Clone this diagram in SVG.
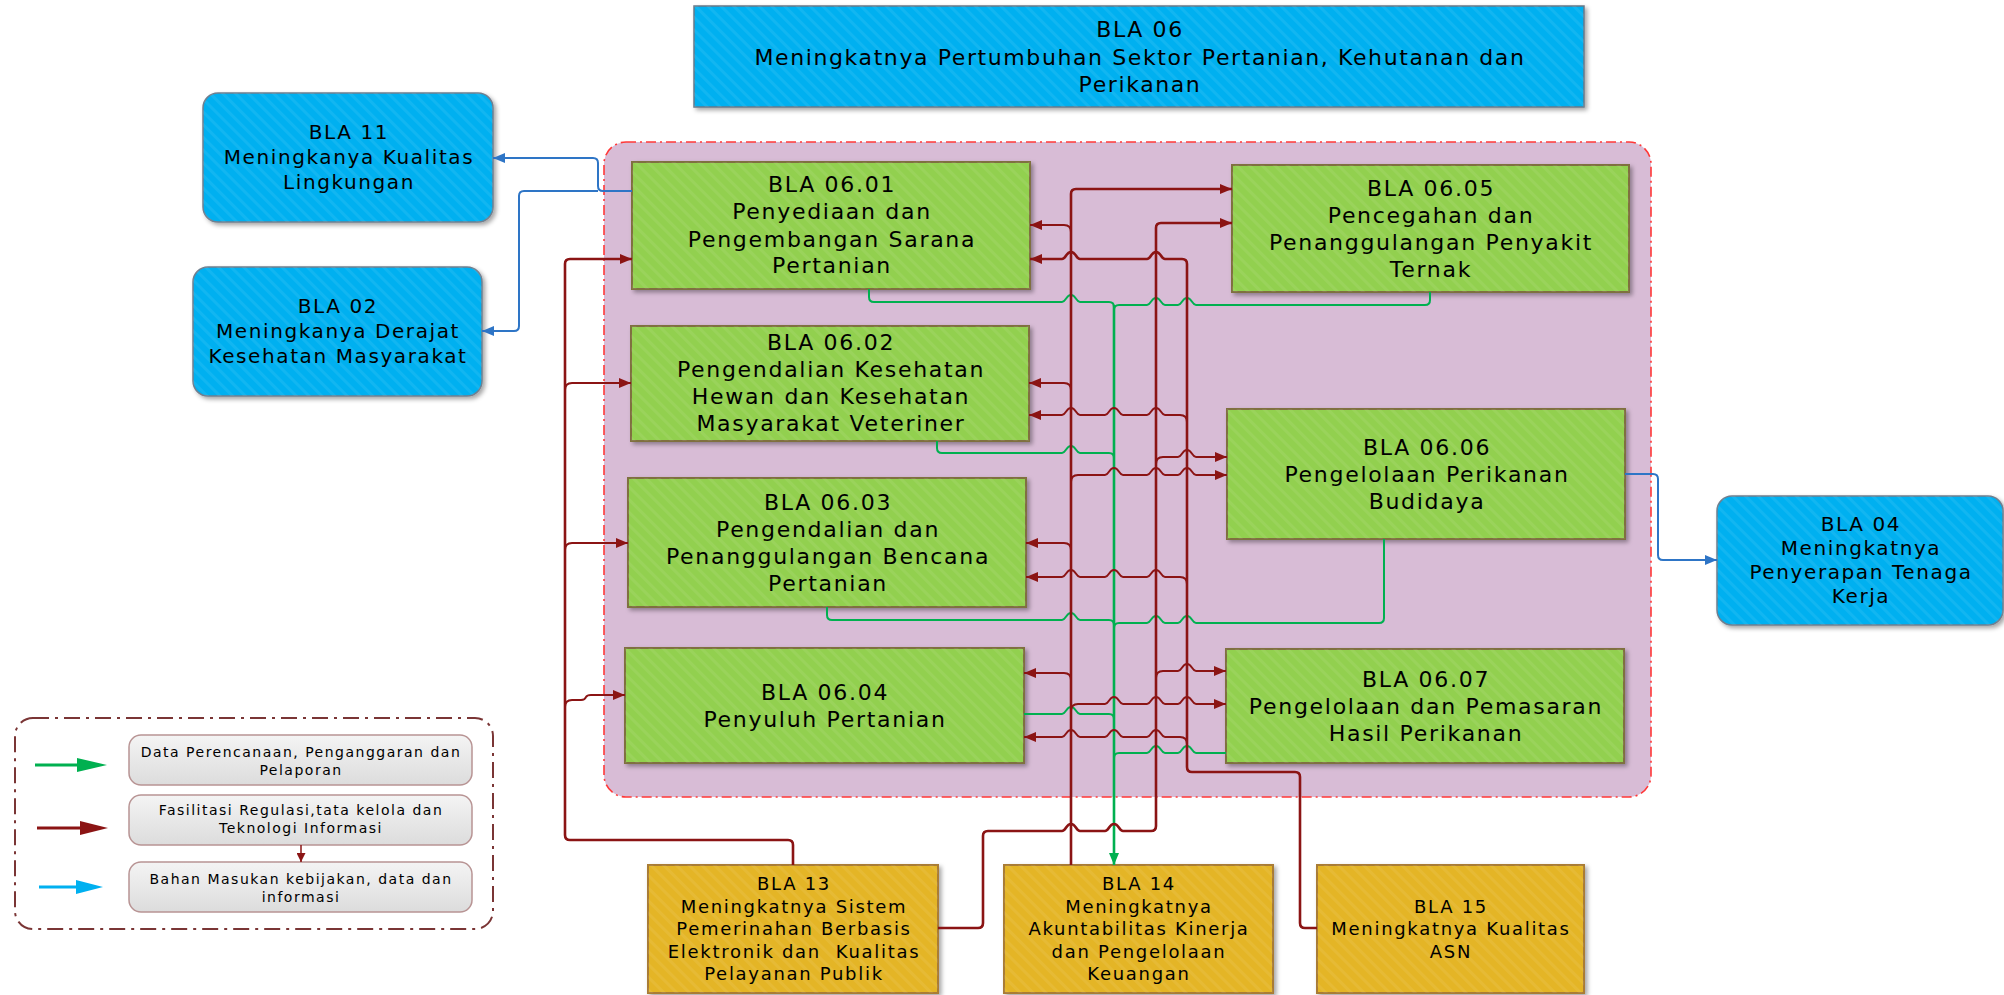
<svg xmlns="http://www.w3.org/2000/svg" width="2004" height="995" viewBox="0 0 2004 995">
<style>
text{font-family:"DejaVu Sans","Liberation Sans",sans-serif;fill:#000;text-anchor:middle}
.t0{font-size:22px;letter-spacing:1.6px}
.tg{font-size:22px;letter-spacing:1.7px}
.tb{font-size:20px;letter-spacing:1.6px}
.ty{font-size:18px;letter-spacing:1.7px}
.tl{font-size:14px;letter-spacing:1.5px}
.nb{fill:#00b0f0;stroke:#6f7f8f;stroke-width:1.5}
.ng{fill:#92d050;stroke:#7f6f40;stroke-width:2}
.ny{fill:#e4b526;stroke:#a97c36;stroke-width:2}
.hat{fill:url(#hatch)}
.r{fill:none;stroke:#8b1414;stroke-width:2;stroke-linejoin:round}
.rm{fill:none;stroke:#8b1414;stroke-width:2.6;stroke-linejoin:round}
.g{fill:none;stroke:#00b050;stroke-width:2;stroke-linejoin:round}
.gm{fill:none;stroke:#00b050;stroke-width:2.6;stroke-linejoin:round}
.b{fill:none;stroke:#2e75c6;stroke-width:2;stroke-linejoin:round}
.lb{fill:url(#lgrad);stroke:#b89494;stroke-width:1.5}
</style>
<defs>
<pattern id="hatch" patternUnits="userSpaceOnUse" width="9" height="9" patternTransform="rotate(-45)">
<rect x="0" y="0" width="3" height="9" fill="#ffffff" fill-opacity="0.07"/>
</pattern>
<linearGradient id="lgrad" x1="0" y1="0" x2="0" y2="1">
<stop offset="0" stop-color="#f4f4f4"/>
<stop offset="1" stop-color="#dcdcdc"/>
</linearGradient>
<filter id="sh" x="-5%" y="-5%" width="112%" height="115%">
<feDropShadow dx="2.5" dy="2.5" stdDeviation="2" flood-color="#000" flood-opacity="0.35"/>
</filter>
<marker id="ar" viewBox="0 0 12 10" refX="12" refY="5" markerWidth="12" markerHeight="10" markerUnits="userSpaceOnUse" orient="auto"><path d="M0,0 L12,5 L0,10 z" fill="#8b1414"/></marker>
<marker id="ag" viewBox="0 0 12 10" refX="12" refY="5" markerWidth="12" markerHeight="10" markerUnits="userSpaceOnUse" orient="auto"><path d="M0,0 L12,5 L0,10 z" fill="#00b050"/></marker>
<marker id="ab" viewBox="0 0 12 10" refX="12" refY="5" markerWidth="12" markerHeight="10" markerUnits="userSpaceOnUse" orient="auto"><path d="M0,0 L12,5 L0,10 z" fill="#2e75c6"/></marker>
<marker id="ars" viewBox="0 0 10 10" refX="10" refY="5" markerWidth="9" markerHeight="9" markerUnits="userSpaceOnUse" orient="auto"><path d="M0,0 L10,5 L0,10 z" fill="#8b1414"/></marker>
</defs>

<rect x="0" y="0" width="2004" height="995" fill="#ffffff"/>

<g id="container">
<rect x="604" y="142" width="1047" height="655" rx="22" fill="#d8bcd6" stroke="#ff3838" stroke-width="1.6" stroke-dasharray="10 4 2 4"/>
</g>

<g id="bla06">
<rect x="694" y="6" width="890" height="101" class="nb" filter="url(#sh)" style="stroke:#687888"/>
<rect x="694" y="6" width="890" height="101" class="hat"/>
<text class="t0" x="1140" y="37">BLA 06</text>
<text class="t0" x="1140" y="65">Meningkatnya Pertumbuhan Sektor Pertanian, Kehutanan dan</text>
<text class="t0" x="1140" y="92">Perikanan</text>
</g>

<g id="bla11">
<rect x="203" y="93" width="290" height="129" rx="15" class="nb" filter="url(#sh)"/>
<rect x="203" y="93" width="290" height="129" rx="15" class="hat"/>
<text class="tb" x="349" y="139">BLA 11</text>
<text class="tb" x="349" y="164">Meningkanya Kualitas</text>
<text class="tb" x="349" y="189">Lingkungan</text>
</g>

<g id="bla02">
<rect x="193" y="267" width="289" height="129" rx="15" class="nb" filter="url(#sh)"/>
<rect x="193" y="267" width="289" height="129" rx="15" class="hat"/>
<text class="tb" x="338" y="313">BLA 02</text>
<text class="tb" x="338" y="338">Meningkanya Derajat</text>
<text class="tb" x="338" y="363">Kesehatan Masyarakat</text>
</g>

<g id="bla04">
<rect x="1717" y="496" width="286" height="129" rx="15" class="nb" filter="url(#sh)"/>
<rect x="1717" y="496" width="286" height="129" rx="15" class="hat"/>
<text class="tb" x="1861" y="531">BLA 04</text>
<text class="tb" x="1861" y="555">Meningkatnya</text>
<text class="tb" x="1861" y="579">Penyerapan Tenaga</text>
<text class="tb" x="1861" y="603">Kerja</text>
</g>

<g id="bla0601">
<rect x="632" y="162" width="398" height="127" class="ng" filter="url(#sh)"/>
<rect x="632" y="162" width="398" height="127" class="hat"/>
<text class="tg" x="832" y="192">BLA 06.01</text>
<text class="tg" x="832" y="219">Penyediaan dan</text>
<text class="tg" x="832" y="247">Pengembangan Sarana</text>
<text class="tg" x="832" y="273">Pertanian</text>
</g>

<g id="bla0602">
<rect x="631" y="326" width="398" height="115" class="ng" filter="url(#sh)"/>
<rect x="631" y="326" width="398" height="115" class="hat"/>
<text class="tg" x="831" y="350">BLA 06.02</text>
<text class="tg" x="831" y="377">Pengendalian Kesehatan</text>
<text class="tg" x="831" y="404">Hewan dan Kesehatan</text>
<text class="tg" x="831" y="431">Masyarakat Veteriner</text>
</g>

<g id="bla0603">
<rect x="628" y="478" width="398" height="129" class="ng" filter="url(#sh)"/>
<rect x="628" y="478" width="398" height="129" class="hat"/>
<text class="tg" x="828" y="510">BLA 06.03</text>
<text class="tg" x="828" y="537">Pengendalian dan</text>
<text class="tg" x="828" y="564">Penanggulangan Bencana</text>
<text class="tg" x="828" y="591">Pertanian</text>
</g>

<g id="bla0604">
<rect x="625" y="648" width="399" height="115" class="ng" filter="url(#sh)"/>
<rect x="625" y="648" width="399" height="115" class="hat"/>
<text class="tg" x="825" y="700">BLA 06.04</text>
<text class="tg" x="825" y="727">Penyuluh Pertanian</text>
</g>

<g id="bla0605">
<rect x="1232" y="165" width="397" height="127" class="ng" filter="url(#sh)"/>
<rect x="1232" y="165" width="397" height="127" class="hat"/>
<text class="tg" x="1431" y="196">BLA 06.05</text>
<text class="tg" x="1431" y="223">Pencegahan dan</text>
<text class="tg" x="1431" y="250">Penanggulangan Penyakit</text>
<text class="tg" x="1431" y="277">Ternak</text>
</g>

<g id="bla0606">
<rect x="1227" y="409" width="398" height="130" class="ng" filter="url(#sh)"/>
<rect x="1227" y="409" width="398" height="130" class="hat"/>
<text class="tg" x="1427" y="455">BLA 06.06</text>
<text class="tg" x="1427" y="482">Pengelolaan Perikanan</text>
<text class="tg" x="1427" y="509">Budidaya</text>
</g>

<g id="bla0607">
<rect x="1226" y="649" width="398" height="114" class="ng" filter="url(#sh)"/>
<rect x="1226" y="649" width="398" height="114" class="hat"/>
<text class="tg" x="1426" y="687">BLA 06.07</text>
<text class="tg" x="1426" y="714">Pengelolaan dan Pemasaran</text>
<text class="tg" x="1426" y="741">Hasil Perikanan</text>
</g>

<g id="bla13">
<rect x="648" y="865" width="290" height="128" class="ny" filter="url(#sh)"/>
<rect x="648" y="865" width="290" height="128" class="hat"/>
<text class="ty" x="794" y="890">BLA 13</text>
<text class="ty" x="794" y="913">Meningkatnya Sistem</text>
<text class="ty" x="794" y="935">Pemerinahan Berbasis</text>
<text class="ty" x="794" y="958" xml:space="preserve">Elektronik dan  Kualitas</text>
<text class="ty" x="794" y="980">Pelayanan Publik</text>
</g>

<g id="bla14">
<rect x="1004" y="865" width="269" height="128" class="ny" filter="url(#sh)"/>
<rect x="1004" y="865" width="269" height="128" class="hat"/>
<text class="ty" x="1139" y="890">BLA 14</text>
<text class="ty" x="1139" y="913">Meningkatnya</text>
<text class="ty" x="1139" y="935">Akuntabilitas Kinerja</text>
<text class="ty" x="1139" y="958">dan Pengelolaan</text>
<text class="ty" x="1139" y="980">Keuangan</text>
</g>

<g id="bla15">
<rect x="1317" y="865" width="267" height="128" class="ny" filter="url(#sh)"/>
<rect x="1317" y="865" width="267" height="128" class="hat"/>
<text class="ty" x="1451" y="913">BLA 15</text>
<text class="ty" x="1451" y="935">Meningkatnya Kualitas</text>
<text class="ty" x="1451" y="958">ASN</text>
</g>

<g id="connectors">
<!-- blue -->
<path class="b" d="M632,191 H603 Q598,191 598,186 V163 Q598,158 593,158 H493" marker-end="url(#ab)"/>
<path class="b" d="M598,191 H524 Q519,191 519,196 V326 Q519,331 514,331 H482" marker-end="url(#ab)"/>
<path class="b" d="M1625,474 H1653 Q1658,474 1658,479 V555 Q1658,560 1663,560 H1717" marker-end="url(#ab)"/>

<!-- green -->
<path class="g" d="M869,289 V297 Q869,302 874,302 H1062 C1066,302 1066,295 1071,295 C1076,295 1076,302 1080,302 H1109 Q1114,302 1114,307"/>
<path class="gm" d="M1114,305 V865" marker-end="url(#ag)"/>
<path class="g" d="M1430,292 V300 Q1430,305 1425,305 H1196 C1192,305 1192,298 1187,298 C1182,298 1182,305 1178,305 H1165 C1161,305 1161,298 1156,298 C1151,298 1151,305 1147,305 H1119 Q1114,305 1114,310"/>
<path class="g" d="M937,441 V448 Q937,453 942,453 H1062 C1066,453 1066,446 1071,446 C1076,446 1076,453 1080,453 H1109 Q1114,453 1114,458"/>
<path class="g" d="M827,607 V615 Q827,620 832,620 H1062 C1066,620 1066,613 1071,613 C1076,613 1076,620 1080,620 H1109 Q1114,620 1114,625"/>
<path class="g" d="M1384,539 V618 Q1384,623 1379,623 H1196 C1192,623 1192,616 1187,616 C1182,616 1182,623 1178,623 H1165 C1161,623 1161,616 1156,616 C1151,616 1151,623 1147,623 H1119 Q1114,623 1114,628"/>
<path class="g" d="M1024,714 H1062 C1066,714 1066,707 1071,707 C1076,707 1076,714 1080,714 H1109 Q1114,714 1114,719"/>
<path class="g" d="M1226,753 H1196 C1192,753 1192,746 1187,746 C1182,746 1182,753 1178,753 H1165 C1161,753 1161,746 1156,746 C1151,746 1151,753 1147,753 H1119 Q1114,753 1114,758"/>

<!-- red: BLA 13 left bus -->
<path class="rm" d="M793,865 V845 Q793,840 788,840 H570 Q565,840 565,835 V264 Q565,259 570,259 H632" marker-end="url(#ar)"/>
<path class="r" d="M565,390 Q565,383 572,383 H631" marker-end="url(#ar)"/>
<path class="r" d="M565,550 Q565,543 572,543 H628" marker-end="url(#ar)"/>
<path class="r" d="M565,707 Q565,700 572,700 H581 Q585,700 586,697 Q587,695 591,695 H625" marker-end="url(#ar)"/>

<!-- red: BLA 14 bus (x=1071) -->
<path class="rm" d="M1071,865 V194 Q1071,189 1076,189 H1232" marker-end="url(#ar)"/>
<path class="r" d="M1071,232 Q1071,225 1064,225 H1030" marker-end="url(#ar)"/>
<path class="r" d="M1071,390 Q1071,383 1064,383 H1029" marker-end="url(#ar)"/>
<path class="r" d="M1071,550 Q1071,543 1064,543 H1026" marker-end="url(#ar)"/>
<path class="r" d="M1071,680 Q1071,673 1064,673 H1024" marker-end="url(#ar)"/>
<path class="r" d="M1071,482 Q1071,475 1078,475 H1105 C1109,475 1109,468 1114,468 C1119,468 1119,475 1123,475 H1147 C1151,475 1151,468 1156,468 C1161,468 1161,475 1165,475 H1178 C1182,475 1182,468 1187,468 C1192,468 1192,475 1196,475 H1227" marker-end="url(#ar)"/>
<path class="r" d="M1071,711 Q1071,704 1078,704 H1105 C1109,704 1109,697 1114,697 C1119,697 1119,704 1123,704 H1147 C1151,704 1151,697 1156,697 C1161,697 1161,704 1165,704 H1178 C1182,704 1182,697 1187,697 C1192,697 1192,704 1196,704 H1226" marker-end="url(#ar)"/>

<!-- red: BLA 13 right bus (x=1156) -->
<path class="rm" d="M938,928 H978 Q983,928 983,923 V836 Q983,831 988,831 H1062 C1066,831 1066,824 1071,824 C1076,824 1076,831 1080,831 H1105 C1109,831 1109,824 1114,824 C1119,824 1119,831 1123,831 H1151 Q1156,831 1156,826 V228 Q1156,223 1161,223 H1232" marker-end="url(#ar)"/>
<path class="r" d="M1156,464 Q1156,457 1163,457 H1178 C1182,457 1182,450 1187,450 C1192,450 1192,457 1196,457 H1227" marker-end="url(#ar)"/>
<path class="r" d="M1156,678 Q1156,671 1163,671 H1178 C1182,671 1182,664 1187,664 C1192,664 1192,671 1196,671 H1226" marker-end="url(#ar)"/>

<!-- red: BLA 15 bus (x=1187) -->
<path class="rm" d="M1317,928 H1305 Q1300,928 1300,923 V777 Q1300,772 1295,772 H1192 Q1187,772 1187,767 V264 Q1187,259 1182,259 H1165 C1161,259 1161,252 1156,252 C1151,252 1151,259 1147,259 H1080 C1076,259 1076,252 1071,252 C1066,252 1066,259 1062,259 H1030" marker-end="url(#ar)"/>
<path class="r" d="M1187,422 Q1187,415 1180,415 H1165 C1161,415 1161,408 1156,408 C1151,408 1151,415 1147,415 H1123 C1119,415 1119,408 1114,408 C1109,408 1109,415 1105,415 H1080 C1076,415 1076,408 1071,408 C1066,408 1066,415 1062,415 H1029" marker-end="url(#ar)"/>
<path class="r" d="M1187,584 Q1187,577 1180,577 H1165 C1161,577 1161,570 1156,570 C1151,570 1151,577 1147,577 H1123 C1119,577 1119,570 1114,570 C1109,570 1109,577 1105,577 H1080 C1076,577 1076,570 1071,570 C1066,570 1066,577 1062,577 H1026" marker-end="url(#ar)"/>
<path class="r" d="M1187,744 Q1187,737 1180,737 H1165 C1161,737 1161,730 1156,730 C1151,730 1151,737 1147,737 H1123 C1119,737 1119,730 1114,730 C1109,730 1109,737 1105,737 H1080 C1076,737 1076,730 1071,730 C1066,730 1066,737 1062,737 H1024" marker-end="url(#ar)"/>
</g>

<g id="legend">
<rect x="15" y="718" width="478" height="211" rx="18" fill="none" stroke="#7a3535" stroke-width="2" stroke-dasharray="16 6 3 6"/>
<rect x="129" y="735" width="343" height="50" rx="12" class="lb"/>
<rect x="129" y="795" width="343" height="50" rx="12" class="lb"/>
<rect x="129" y="862" width="343" height="50" rx="12" class="lb"/>
<text class="tl" x="301" y="757">Data Perencanaan, Penganggaran dan</text>
<text class="tl" x="301" y="775">Pelaporan</text>
<text class="tl" x="301" y="815">Fasilitasi Regulasi,tata kelola dan</text>
<text class="tl" x="301" y="833">Teknologi Informasi</text>
<text class="tl" x="301" y="884">Bahan Masukan kebijakan, data dan</text>
<text class="tl" x="301" y="902">informasi</text>
<line x1="35" y1="765" x2="80" y2="765" stroke="#00b050" stroke-width="3"/>
<polygon points="77,758 107,765 77,772" fill="#00b050"/>
<line x1="37" y1="828" x2="82" y2="828" stroke="#8b1414" stroke-width="3"/>
<polygon points="80,821 108,828 80,835" fill="#8b1414"/>
<line x1="39" y1="887" x2="78" y2="887" stroke="#00b0f0" stroke-width="3"/>
<polygon points="76,880 103,887 76,894" fill="#00b0f0"/>
<path d="M301,845 V862" fill="none" stroke="#8b1414" stroke-width="1.5" marker-end="url(#ars)"/>
</g>
</svg>
